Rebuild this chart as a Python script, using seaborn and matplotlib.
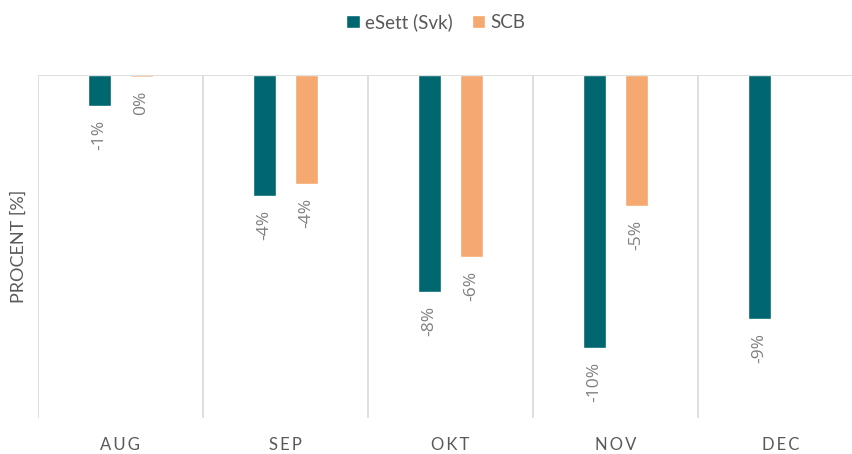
import pandas as pd
import numpy as np
import seaborn as sns
import matplotlib.pyplot as plt

months = ['AUG', 'SEP', 'OKT', 'NOV', 'DEC']
esett = [-1.08, -4.23, -7.58, -9.55, -8.55]
scb = [-0.07, -3.81, -6.35, -4.58, np.nan]
series = ['eSett (Svk)', 'SCB']
colors = ['#006770', '#F5A970']

df = pd.DataFrame({
    'month': months * 2,
    'value': esett + scb,
    'series': [series[0]] * 5 + [series[1]] * 5,
}).dropna()

sns.set_style('white')
plt.rcParams['font.family'] = ['Lato', 'DejaVu Sans']

fig = plt.figure(figsize=(8.52, 4.54), dpi=100)
ax = fig.add_axes([38 / 852, 1 - 418 / 454, (863 - 38) / 852, (418 - 75) / 454])

sns.barplot(data=df, x='month', y='value', hue='series', order=months,
            hue_order=series, palette=colors, saturation=1, width=0.51, gap=0.47,
            errorbar=None, ax=ax, zorder=3)

ax.set_ylim(-12, 0)
ax.set_xlim(-0.5, 4.5)
for s in ax.spines.values():
    s.set_visible(False)
for i in range(6):
    ax.axvline(i - 0.5, color='#d9d9d9', lw=1.2, zorder=1)
ax.axhline(0, color='#d9d9d9', lw=1.2, zorder=4)

ax.set_yticks([])
ax.set_xticks(range(5))
ax.set_xticklabels(['\u2009'.join(m) for m in months], fontsize=12, color='#595959')
ax.tick_params(axis='x', length=0, pad=14)
ax.set_xlabel('')
ax.set_ylabel('PROCENT [%]', fontsize=13, color='#595959', labelpad=8)

for cont in ax.containers:
    labels = []
    for bar in cont:
        v = round(bar.get_height())
        labels.append(f'{v + 0:d}%' if v != 0 else '0%')
    ax.bar_label(cont, labels=labels, rotation=90, padding=10,
                 fontsize=12.5, color='#7f7f7f', family=['Open Sans', 'DejaVu Sans'])

ax.legend(loc='center', bbox_to_anchor=(436 / 852, 1 - 22 / 454),
          bbox_transform=fig.transFigure, ncol=2, frameon=False,
          fontsize=13.5, handlelength=0.7, handleheight=0.7,
          handletextpad=0.3, columnspacing=1.0, labelcolor='#595959')

fig.savefig('out.png', dpi=100)
